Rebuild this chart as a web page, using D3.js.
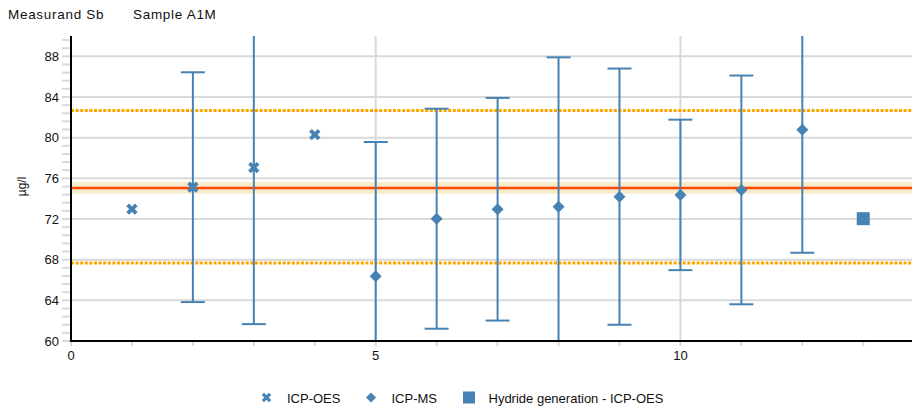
<!DOCTYPE html>
<html>
<head>
<meta charset="utf-8">
<script src="https://cdn.jsdelivr.net/npm/d3@7"></script>
<style>
  html, body { margin: 0; padding: 0; background: #fff; }
  svg { display: block; font-family: "Liberation Sans", Arial, sans-serif; }
</style>
</head>
<body>
<svg id="chart" width="914" height="412"></svg>
<script>
// Laboratory results: index, method, reported value, expanded uncertainty (µg/l)
const labIndex    = [1, 2, 3, 4, 5, 6, 7, 8, 9, 10, 11, 12, 13];
const labMethod   = ["ICP-OES", "ICP-OES", "ICP-OES", "ICP-OES", "ICP-MS", "ICP-MS", "ICP-MS",
                     "ICP-MS", "ICP-MS", "ICP-MS", "ICP-MS", "ICP-MS", "Hydride generation - ICP-OES"];
const labValue    = [72.97, 75.13, 77.06, 80.3, 66.38, 72.03, 72.96, 73.2, 74.2, 74.37, 74.86, 80.78, 72.03];
const labUncert   = [null, 11.3, 15.4, null, 13.19, 10.82, 10.95, 14.7, 12.6, 7.4, 11.25, 12.1, null];

// Assigned value, its uncertainty band and the tolerance limits
const assignedValue = 75.06;
const assignedUnc   = 0.57;
const toleranceLow  = 67.66;
const toleranceHigh = 82.68;

const yTicks = [60, 64, 68, 72, 76, 80, 84, 88];
const xTicks = [0, 5, 10];
const methods = ["ICP-OES", "ICP-MS", "Hydride generation - ICP-OES"];

const blue = "#4682b4";
const grid = "#d9d9d9";
const ink = "#111";

const svg = d3.select("#chart");
const m = { left: 71, right: 912, top: 36, bottom: 341 };

const x = d3.scaleLinear().domain([0, 13.8]).range([m.left, m.right]);
const y = d3.scaleLinear().domain([60, 90]).range([m.bottom, m.top]);

svg.append("defs").append("clipPath").attr("id", "plotClip")
  .append("rect").attr("x", m.left).attr("y", m.top)
  .attr("width", m.right - m.left).attr("height", m.bottom - m.top);

// Horizontal grid
svg.append("g").selectAll("line").data(yTicks.filter(d => d > 60)).join("line")
  .attr("x1", m.left).attr("x2", m.right)
  .attr("y1", d => y(d)).attr("y2", d => y(d))
  .attr("stroke", grid).attr("stroke-width", 2);

// Vertical grid
svg.append("g").selectAll("line").data(xTicks.filter(d => d > 0)).join("line")
  .attr("x1", d => x(d)).attr("x2", d => x(d))
  .attr("y1", m.top).attr("y2", m.bottom)
  .attr("stroke", grid).attr("stroke-width", 2);

// Minor ticks on the y axis (every 0.8)
const yMinor = d3.range(0, 38).map(i => 60 + i * 0.8).filter(v => v <= 90);
svg.append("g").selectAll("line").data(yMinor).join("line")
  .attr("x1", m.left - 9).attr("x2", m.left - 1)
  .attr("y1", d => y(d)).attr("y2", d => y(d))
  .attr("stroke", grid).attr("stroke-width", 2);

// Minor ticks on the x axis (every 1)
svg.append("g").selectAll("line").data(d3.range(0, 14)).join("line")
  .attr("x1", d => x(d)).attr("x2", d => x(d))
  .attr("y1", m.bottom + 1).attr("y2", m.bottom + 5)
  .attr("stroke", grid).attr("stroke-width", 2);

const plot = svg.append("g").attr("clip-path", "url(#plotClip)");

// Assigned value band and line
plot.append("rect")
  .attr("x", m.left).attr("width", m.right - m.left)
  .attr("y", y(assignedValue + assignedUnc))
  .attr("height", y(assignedValue - assignedUnc) - y(assignedValue + assignedUnc))
  .attr("fill", "#f5ebcd");
plot.append("line")
  .attr("x1", m.left).attr("x2", m.right)
  .attr("y1", y(assignedValue)).attr("y2", y(assignedValue))
  .attr("stroke", "#ff4500").attr("stroke-width", 2.5);

// Tolerance limits
plot.selectAll("line.tol").data([toleranceLow, toleranceHigh]).join("line")
  .attr("class", "tol")
  .attr("x1", m.left).attr("x2", m.right)
  .attr("y1", d => y(d)).attr("y2", d => y(d))
  .attr("stroke", "#ffa500").attr("stroke-width", 3)
  .attr("stroke-dasharray", "3,1.6");

const data = labIndex.map((d, i) => ({
  i: d, method: labMethod[i], v: labValue[i], u: labUncert[i]
}));

// Error bars
const eb = plot.append("g").selectAll("g").data(data.filter(d => d.u != null)).join("g");
eb.append("line")
  .attr("x1", d => x(d.i)).attr("x2", d => x(d.i))
  .attr("y1", d => y(d.v - d.u)).attr("y2", d => y(d.v + d.u))
  .attr("stroke", blue).attr("stroke-width", 2);
eb.selectAll("line.cap").data(d => [{ i: d.i, c: d.v - d.u }, { i: d.i, c: d.v + d.u }]).join("line")
  .attr("class", "cap")
  .attr("x1", d => x(d.i) - 12).attr("x2", d => x(d.i) + 12)
  .attr("y1", d => y(d.c)).attr("y2", d => y(d.c))
  .attr("stroke", blue).attr("stroke-width", 2);

// Marker shapes per method
function marker(sel, method, s) {
  if (method === "ICP-OES") {
    const a = s * 0.36;
    sel.append("path")
      .attr("d", `M${-a},${-a}L${a},${a}M${-a},${a}L${a},${-a}`)
      .attr("stroke", blue).attr("stroke-width", s * 0.32).attr("fill", "none");
  } else if (method === "ICP-MS") {
    const a = s * 0.5;
    sel.append("path")
      .attr("d", `M0,${-a}L${a},0L0,${a}L${-a},0Z`).attr("fill", blue);
  } else {
    const a = s * 0.5;
    sel.append("rect").attr("x", -a).attr("y", -a)
      .attr("width", 2 * a).attr("height", 2 * a).attr("fill", blue);
  }
}

plot.append("g").selectAll("g").data(data).join("g")
  .attr("transform", d => `translate(${x(d.i)},${y(d.v)})`)
  .each(function (d) {
    marker(d3.select(this), d.method, d.method === "Hydride generation - ICP-OES" ? 13 : 12);
  });

// Axes lines
svg.append("line").attr("x1", m.left).attr("x2", m.left)
  .attr("y1", m.top).attr("y2", m.bottom + 1)
  .attr("stroke", "#000").attr("stroke-width", 2);
svg.append("line").attr("x1", m.left - 1).attr("x2", m.right)
  .attr("y1", m.bottom).attr("y2", m.bottom)
  .attr("stroke", "#000").attr("stroke-width", 2);

// Tick labels
svg.append("g").selectAll("text").data(yTicks).join("text")
  .attr("x", m.left - 12).attr("y", d => y(d)).attr("dy", "0.35em")
  .attr("text-anchor", "end").attr("font-size", 13).attr("fill", ink)
  .text(d => d);
svg.append("g").selectAll("text").data(xTicks).join("text")
  .attr("x", d => x(d)).attr("y", m.bottom + 19)
  .attr("text-anchor", "middle").attr("font-size", 13).attr("fill", ink)
  .text(d => d);

// Y axis title
svg.append("text")
  .attr("transform", `translate(26,${y(75.2)}) rotate(-90)`)
  .attr("text-anchor", "middle").attr("font-size", 12).attr("fill", ink)
  .text("µg/l");

// Header
svg.append("text").attr("x", 8).attr("y", 18.5)
  .attr("font-size", 13.5).attr("letter-spacing", 0.7).attr("fill", ink)
  .text("Measurand Sb");
svg.append("text").attr("x", 133).attr("y", 18.5)
  .attr("font-size", 13.5).attr("letter-spacing", 0.7).attr("fill", ink)
  .text("Sample A1M");

// Legend
const legendPos = [{ mx: 266.5, tx: 287 }, { mx: 371, tx: 391.5 }, { mx: 469, tx: 488.5 }];
const lg = svg.append("g").selectAll("g").data(methods).join("g");
lg.append("g")
  .attr("transform", (d, i) => `translate(${legendPos[i].mx},397.5)`)
  .each(function (d) { marker(d3.select(this), d, d === "Hydride generation - ICP-OES" ? 12 : 10); });
lg.append("text")
  .attr("x", (d, i) => legendPos[i].tx).attr("y", 403)
  .attr("font-size", 13).attr("fill", ink)
  .text(d => d);
</script>
</body>
</html>
